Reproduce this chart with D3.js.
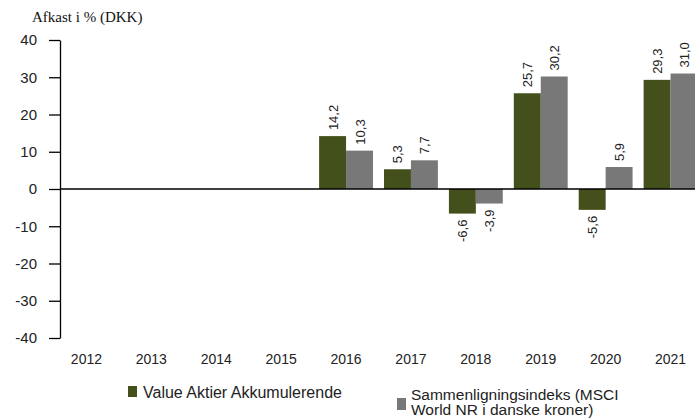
<!DOCTYPE html>
<html>
<head>
<meta charset="utf-8">
<script src="https://cdn.jsdelivr.net/npm/d3@7"></script>
<style>
  body { margin: 0; background: #fff; }
  svg { font-family: "Liberation Sans", Arial, sans-serif; }
</style>
</head>
<body>
<svg id="chart" width="695" height="418"></svg>
<script>
const years = ["2012", "2013", "2014", "2015", "2016", "2017", "2018", "2019", "2020", "2021"];
const fundValues = [null, null, null, null, 14.2, 5.3, -6.6, 25.7, -5.6, 29.3];
const indexValues = [null, null, null, null, 10.3, 7.7, -3.9, 30.2, 5.9, 31.0];
const seriesNames = ["Value Aktier Akkumulerende", "Sammenligningsindeks (MSCI World NR i danske kroner)"];
const yTicks = [40, 30, 20, 10, 0, -10, -20, -30, -40];

const colors = ["#43501b", "#787878"];

const svg = d3.select("#chart");

let yScale = d3.scaleLinear().domain([-40, 40]).range([338, 40]);
let xScale = d3.scaleBand().domain(years).range([54, 703]).paddingInner(0.17).paddingOuter(0.085);
let xInner = d3.scaleBand().domain([0, 1]).range([0, xScale.bandwidth()]);

// y axis
let yAxis = svg
  .append("g")
  .attr("transform", "translate(60, 0)")
  .call(d3.axisLeft(yScale).tickValues(yTicks).tickSize(11).tickSizeOuter(0).tickFormat((d) => String(d)));
yAxis.select(".domain").attr("stroke", "#000").attr("stroke-width", 1.3);
yAxis.selectAll(".tick line").attr("stroke", "#000").attr("stroke-width", 1.3);
yAxis.selectAll(".tick text").attr("font-size", 15).attr("fill", "#222").attr("x", -23);

// x labels
svg
  .append("g")
  .selectAll("text")
  .data(years)
  .join("text")
  .attr("x", (d) => xScale(d) + xScale.bandwidth() / 2)
  .attr("y", 364)
  .attr("text-anchor", "middle")
  .attr("font-size", 14)
  .attr("fill", "#222")
  .text((d) => d);

// title
svg
  .append("text")
  .attr("x", 32)
  .attr("y", 22)
  .attr("font-family", "'Liberation Serif', 'Times New Roman', serif")
  .attr("font-size", 15)
  .attr("fill", "#111")
  .text("Afkast i % (DKK)");

// bars
let rows = [];
years.forEach((y, i) => {
  [fundValues[i], indexValues[i]].forEach((v, s) => {
    if (v !== null) rows.push({ year: y, s: s, value: v });
  });
});

svg
  .append("g")
  .selectAll("rect")
  .data(rows)
  .join("rect")
  .attr("x", (d) => xScale(d.year) + xInner(d.s))
  .attr("width", xInner.bandwidth())
  .attr("y", (d) => yScale(Math.max(0, d.value)))
  .attr("height", (d) => Math.abs(yScale(d.value) - yScale(0)))
  .attr("fill", (d) => colors[d.s]);

// zero line
svg
  .append("line")
  .attr("x1", 60)
  .attr("x2", 695)
  .attr("y1", yScale(0))
  .attr("y2", yScale(0))
  .attr("stroke", "#000")
  .attr("stroke-width", 1.3);

// value labels
let fmt = (v) => v.toFixed(1).replace(".", ",");
svg
  .append("g")
  .selectAll("text")
  .data(rows)
  .join("text")
  .attr("transform", (d) => {
    let cx = xScale(d.year) + xInner(d.s) + xInner.bandwidth() / 2 + 5;
    let cy = d.value >= 0 ? yScale(d.value) - 6 : yScale(d.value) + 6;
    return `translate(${cx}, ${cy}) rotate(-90)`;
  })
  .attr("text-anchor", (d) => (d.value >= 0 ? "start" : "end"))
  .attr("font-size", 13)
  .attr("fill", "#222")
  .text((d) => fmt(d.value));

// legend
let legend = svg.append("g");
legend.append("rect").attr("x", 128).attr("y", 386).attr("width", 9).attr("height", 11).attr("fill", colors[0]);
legend
  .append("text")
  .attr("x", 143)
  .attr("y", 398)
  .attr("font-size", 16)
  .attr("fill", "#222")
  .text(seriesNames[0]);

legend.append("rect").attr("x", 397).attr("y", 398).attr("width", 9).attr("height", 12).attr("fill", colors[1]);
let lt = legend
  .append("text")
  .attr("x", 411)
  .attr("y", 400)
  .attr("font-size", 15.5)
  .attr("fill", "#222");
lt.append("tspan").attr("x", 411).text("Sammenligningsindeks (MSCI");
lt.append("tspan").attr("x", 411).attr("dy", 15).text("World NR i danske kroner)");
</script>
</body>
</html>
